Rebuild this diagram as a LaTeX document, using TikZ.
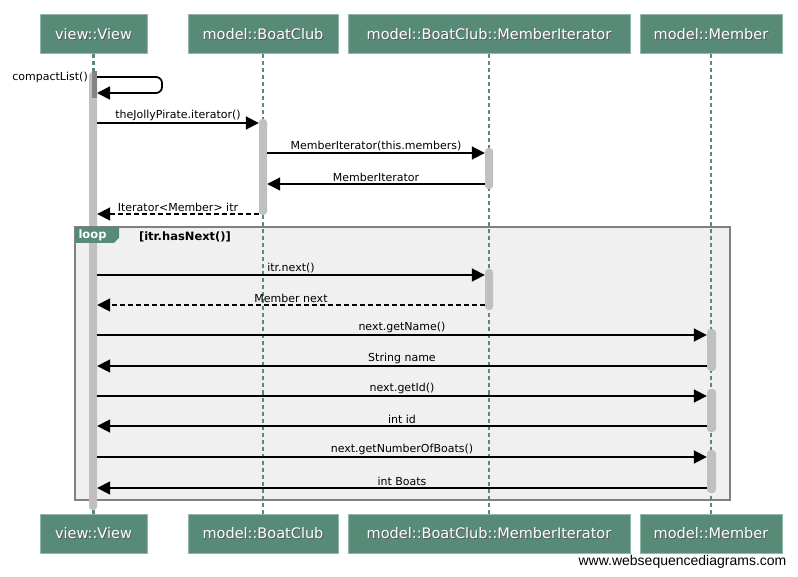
\documentclass[tikz,border=0pt]{standalone}
\usepackage{fontspec}
\setmainfont{DejaVu Sans}
\newfontfamily\wmfont{Liberation Sans}
\usetikzlibrary{arrows.meta}
\definecolor{partgreen}{HTML}{578B77}
\definecolor{partedge}{HTML}{93B7A8}
\definecolor{actgrey}{HTML}{C0C0C0}
\definecolor{actdark}{HTML}{858585}
\definecolor{framefill}{HTML}{F0F0F0}
\definecolor{frameedge}{HTML}{808080}
% text with a soft drop shadow for the participant heads
\newcommand\shadowed[1]{\makebox[0pt][l]{\kern0.9pt\raisebox{-0.9pt}{\color{black!65}#1}}#1}
\tikzset{
  participant/.style={draw=partedge, line width=1pt, fill=partgreen, text=white,
    font=\fontsize{14.5}{16}\selectfont, minimum height=39pt, inner sep=0pt},
  lifeline/.style={draw=partgreen, line width=2.5pt, dash pattern=on 4pt off 3pt},
  activation/.style={fill=actgrey, rounded corners=3.5pt, minimum width=8pt, inner sep=0pt},
  msg/.style={line width=1.8pt, -{Triangle[length=13pt,width=13pt]}},
  reply/.style={msg, dash pattern=on 5pt off 3pt},
  msglabel/.style={font=\fontsize{11}{13}\selectfont, inner sep=1.5pt, above},
}
\begin{document}
\begin{tikzpicture}[x=1pt,y=-1pt]
\useasboundingbox[fill=white] (0,0) rectangle (798,577);

% participant heads, top and bottom
\node[participant, minimum width=107pt] (viewT) at (93.5,34.5) {\shadowed{view::View}};
\node[participant, minimum width=150pt] (clubT) at (263,34.5) {\shadowed{model::BoatClub}};
\node[participant, minimum width=282pt] (iterT) at (489,34.5) {\shadowed{model::BoatClub::MemberIterator}};
\node[participant, minimum width=142pt] (membT) at (711,34.5) {\shadowed{model::Member}};
\node[participant, minimum width=107pt] (viewB) at (93.5,533.5) {\shadowed{view::View}};
\node[participant, minimum width=150pt] (clubB) at (263,533.5) {\shadowed{model::BoatClub}};
\node[participant, minimum width=282pt] (iterB) at (489,533.5) {\shadowed{model::BoatClub::MemberIterator}};
\node[participant, minimum width=142pt] (membB) at (711,533.5) {\shadowed{model::Member}};

% loop frame
\draw[frameedge, fill=framefill, line width=1.5pt] (75,227) rectangle (730,500);

% lifelines
\draw[lifeline] (viewT.south) -- (viewB.north);
\draw[lifeline] (clubT.south) -- (clubB.north);
\draw[lifeline] (iterT.south) -- (iterB.north);
\draw[lifeline] (membT.south) -- (membB.north);

% activation bars
\node[activation, minimum height=438pt] (viewAct) at (93,291) {};
\fill[actdark] (92,71) rectangle (97,98);
\node[activation, minimum height=96pt] (clubAct) at (263,167) {};
\node[activation, minimum height=41pt] (iterActA) at (489,168.5) {};
\node[activation, minimum height=41pt] (iterActB) at (489,289.5) {};
\node[activation, minimum height=42pt, minimum width=9pt] (membActA) at (711.5,350) {};
\node[activation, minimum height=43pt, minimum width=9pt] (membActB) at (711.5,410.5) {};
\node[activation, minimum height=43pt, minimum width=9pt] (membActC) at (711.5,471.5) {};

% loop tag and guard, above the bars
\draw[frameedge, line width=1.5pt] (75,243) -- (75,227) -- (120,227);
\fill[partgreen] (75,227) -- (119,227) -- (119,238) -- (114,243) -- (75,243) -- cycle;
\node[text=white, font=\bfseries\fontsize{11.5}{13}\selectfont, inner sep=0pt] (looptag) at (92.5,235) {loop};
\node[font=\bfseries\fontsize{11.5}{13}\selectfont, inner sep=0pt] (guard) at (185,237) {[itr.hasNext()]};

% self call
\coordinate (selfOut) at (97,77);
\coordinate (selfIn) at (97,93);
\draw[msg, rounded corners=6pt] (selfOut) -- (162,77) -- (162,93) -- (selfIn);
\node[font=\fontsize{11}{13}\selectfont, anchor=east, inner sep=0pt] (selfLbl) at (88,77) {compactList()};

% messages
\draw[msg] (viewAct.east |- 0,123) -- node[msglabel] {theJollyPirate.iterator()} (clubAct.west |- 0,123);
\draw[msg] (clubAct.east |- 0,153) -- node[msglabel] {MemberIterator(this.members)} (iterActA.west |- 0,153);
\draw[msg] (iterActA.west |- 0,184) -- node[msglabel] {MemberIterator} (clubAct.east |- 0,184);
\draw[reply] (clubAct.west |- 0,214) -- node[msglabel] {Iterator<Member> itr} (viewAct.east |- 0,214);
\draw[msg] (viewAct.east |- 0,275) -- node[msglabel] {itr.next()} (iterActB.west |- 0,275);
\draw[reply] (iterActB.west |- 0,305) -- node[msglabel] {Member next} (viewAct.east |- 0,305);
\draw[msg] (viewAct.east |- 0,335) -- node[msglabel] {next.getName()} (membActA.west |- 0,335);
\draw[msg] (membActA.west |- 0,366) -- node[msglabel] {String name} (viewAct.east |- 0,366);
\draw[msg] (viewAct.east |- 0,396) -- node[msglabel] {next.getId()} (membActB.west |- 0,396);
\draw[msg] (membActB.west |- 0,426) -- node[msglabel] {int id} (viewAct.east |- 0,426);
\draw[msg] (viewAct.east |- 0,457) -- node[msglabel] {next.getNumberOfBoats()} (membActC.west |- 0,457);
\draw[msg] (membActC.west |- 0,488) -- node[msglabel] {int Boats} (viewAct.east |- 0,488);

% footer
\node[font=\wmfont\fontsize{14}{16}\selectfont, inner sep=0pt] (footer) at (682.5,562) {www.websequencediagrams.com};
\end{tikzpicture}
\end{document}
